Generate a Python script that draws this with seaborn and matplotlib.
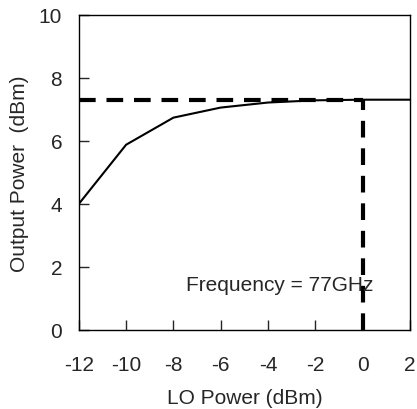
import pandas as pd
import matplotlib.pyplot as plt
import seaborn as sns

# LO power sweep at 77 GHz
lo_power = [-12, -10, -8, -6, -4, -2, 0, 2]
output_power = [4.0, 5.88, 6.74, 7.06, 7.22, 7.29, 7.31, 7.31]

sat_level = 7.31
lo_point = 0

x_ticks = [-12, -10, -8, -6, -4, -2, 0, 2]
y_ticks = [0, 2, 4, 6, 8, 10]

sns.set_style("ticks")
plt.rcParams['font.family'] = ['Liberation Sans', 'DejaVu Sans']

df = pd.DataFrame({'LO': lo_power, 'Pout': output_power})

fig = plt.figure(figsize=(4.17, 4.10), dpi=100)
ax = fig.add_axes([0.189, 0.193, 0.794, 0.768])

sns.lineplot(x='LO', y='Pout', data=df, color='black', linewidth=1.5, ax=ax)

# dashed guide lines
ax.plot([lo_power[0], lo_point], [sat_level, sat_level], color='black',
        linewidth=3, dashes=(4, 2.6), dash_capstyle='butt')
ax.plot([lo_point, lo_point], [0, sat_level], color='black',
        linewidth=3, dashes=(4, 2.6), dash_capstyle='butt')

ax.text(-3.5, 1.45, 'Frequency = 77GHz', fontsize=15, ha='center', va='center')

ax.set_xlim(-12, 2)
ax.set_ylim(0, 10)
ax.set_xticks(x_ticks)
ax.set_yticks(y_ticks)
ax.set_xticklabels([str(t) for t in x_ticks])
ax.tick_params(direction='in', length=7, width=1, labelsize=15,
               top=False, right=False)
ax.tick_params(axis='x', pad=18)
ax.tick_params(axis='y', pad=12)
ax.set_xlabel('LO Power (dBm)', fontsize=15, labelpad=10.5)
ax.set_ylabel('Output Power  (dBm)', fontsize=15, labelpad=7)
for s in ax.spines.values():
    s.set_linewidth(1)
    s.set_color('black')

plt.savefig('out.png', dpi=100)
